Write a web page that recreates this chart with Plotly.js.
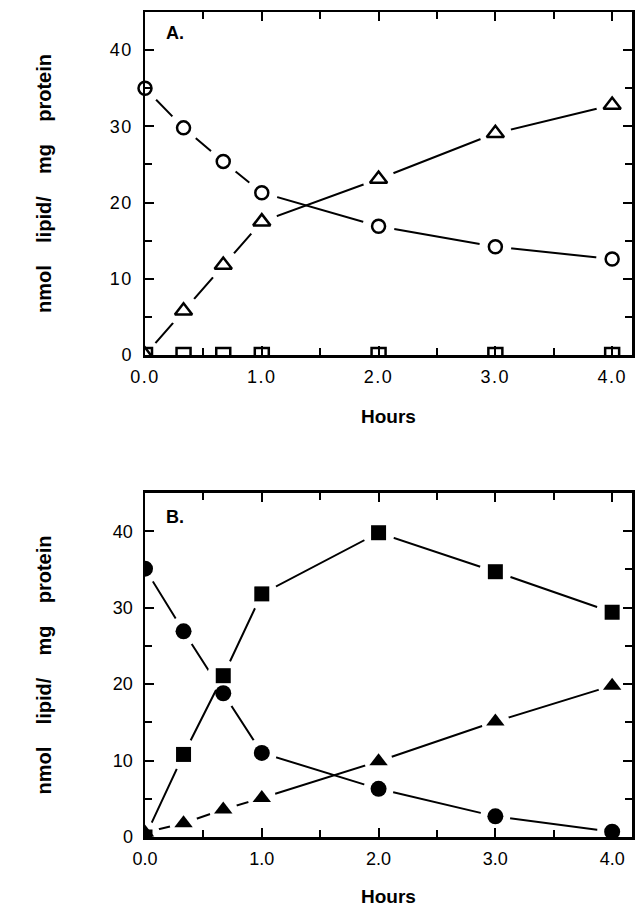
<!DOCTYPE html>
<html><head><meta charset="utf-8">
<script src="https://cdn.plot.ly/plotly-3.0.1.min.js"></script>
<style>html,body{margin:0;padding:0;background:#fff}#chart{width:643px;height:907px}
#chart .xtick text, #chart .ytick text{letter-spacing:1.5px}</style>
</head><body><div id="chart"></div>
<script>
// ---- data ----
const hours = [0, 0.33, 0.67, 1, 2, 3, 4];
const aCircle   = [35.0, 29.8, 25.4, 21.3, 16.9, 14.2, 12.6];
const aTriangle = [0.0, 5.8, 11.8, 17.5, 23.1, 29.1, 32.8];
const aSquare   = [0, 0, 0, 0, 0, 0, 0];
const bCircle   = [35.1, 26.9, 18.8, 11.0, 6.3, 2.7, 0.7];
const bTriangle = [0.6, 1.8, 3.6, 5.1, 9.9, 15.1, 19.8];
const bSquare   = [0.0, 10.8, 21.1, 31.8, 39.8, 34.7, 29.4];
const xTickVals = [0, 1, 2, 3, 4];
const xTickText = ['0.0', '1.0', '2.0', '3.0', '4.0'];
const yTickVals = [0, 10, 20, 30, 40];
const yTickText = ['0', '10', '20', '30', '40'];
const panelLabels = ['A.', 'B.'];
const xTitle = 'Hours';
const yTitle = 'nmol\u00a0\u00a0\u00a0\u00a0lipid/\u00a0\u00a0\u00a0\u00a0mg\u00a0\u00a0\u00a0\u00a0protein';

// ---- styling ----
const FONT = 'Liberation Sans, Arial, Helvetica, sans-serif';
const BLACK = '#000';
const X_RANGE = [0, 4.17];
const Y_RANGE = [0, 45];

function lineHaloTrace(y, xa, ya, haloSize) {
  return {x: hours, y: y, xaxis: xa, yaxis: ya, mode: 'lines+markers',
    line: {color: BLACK, width: 2},
    marker: {symbol: 'circle', size: haloSize, color: '#fff', line: {width: 0}},
    hoverinfo: 'skip', showlegend: false, cliponaxis: true};
}
function markerTrace(y, xa, ya, symbol, size, filled, clip) {
  return {x: hours, y: y, xaxis: xa, yaxis: ya, mode: 'markers',
    marker: {symbol: symbol, size: size, color: filled ? BLACK : '#fff',
      line: {color: BLACK, width: filled ? 0 : 2.5}},
    hoverinfo: 'skip', showlegend: false, cliponaxis: clip};
}

const traces = [
  // panel A
  lineHaloTrace(aCircle, 'x', 'y', 32),
  lineHaloTrace(aTriangle, 'x', 'y', 32),
  markerTrace(aSquare, 'x', 'y', 'square', 14, false, true),
  markerTrace(aTriangle, 'x', 'y', 'triangle-up', 15, false, true),
  markerTrace(aCircle, 'x', 'y', 'circle', 13, false, false),
  // panel B
  lineHaloTrace(bCircle, 'x2', 'y2', 30),
  lineHaloTrace(bTriangle, 'x2', 'y2', 28),
  lineHaloTrace(bSquare, 'x2', 'y2', 32),
  markerTrace(bSquare, 'x2', 'y2', 'square', 15, true, true),
  markerTrace(bTriangle, 'x2', 'y2', 'triangle-up', 16, true, true),
  markerTrace(bCircle, 'x2', 'y2', 'circle', 16, true, true)
];

function xAxis(anchor) {
  return {anchor: anchor, range: X_RANGE, tickmode: 'array', tickvals: xTickVals, ticktext: xTickText,
    ticks: 'inside', ticklen: 9, tickwidth: 2, tickcolor: BLACK,
    showline: true, linewidth: 2.5, linecolor: BLACK, mirror: 'allticks',
    showgrid: false, zeroline: false, ticklabelstandoff: 4, layer: 'above traces',
    tickfont: {family: FONT, size: 18, color: BLACK},
    minor: {tickmode: 'linear', tick0: 0, dtick: 0.5, ticks: 'inside', ticklen: 7, tickwidth: 2, tickcolor: BLACK, showgrid: false},
    title: {text: xTitle, standoff: 24, font: {family: FONT, size: 19, color: BLACK, weight: 700}},
    fixedrange: true};
}
function yAxis(anchor, domain) {
  return {anchor: anchor, domain: domain, range: Y_RANGE, tickmode: 'array', tickvals: yTickVals, ticktext: yTickText,
    ticks: 'inside', ticklen: 9, tickwidth: 2, tickcolor: BLACK,
    showline: true, linewidth: 2.5, linecolor: BLACK, mirror: 'allticks',
    showgrid: false, zeroline: false, ticklabelstandoff: 6, layer: 'above traces',
    tickfont: {family: FONT, size: 18, color: BLACK},
    minor: {tickmode: 'linear', tick0: 0, dtick: 5, ticks: 'inside', ticklen: 7, tickwidth: 2, tickcolor: BLACK, showgrid: false},
    title: {text: yTitle, standoff: 56, font: {family: FONT, size: 20, color: BLACK, weight: 700}},
    fixedrange: true};
}

const layout = {
  width: 643, height: 907,
  margin: {l: 145, r: 11, t: 12, b: 70, pad: 0},
  paper_bgcolor: '#fff', plot_bgcolor: '#fff',
  showlegend: false,
  xaxis: xAxis('y'),
  yaxis: yAxis('x', [0.5842, 1]),
  xaxis2: xAxis('y2'),
  yaxis2: yAxis('x2', [0, 0.4170]),
  annotations: [
    {xref: 'x', yref: 'y', x: 0.16, y: 42.3, text: panelLabels[0], showarrow: false, xanchor: 'left', yanchor: 'middle',
      font: {family: FONT, size: 18, color: BLACK, weight: 700}},
    {xref: 'x2', yref: 'y2', x: 0.16, y: 41.8, text: panelLabels[1], showarrow: false, xanchor: 'left', yanchor: 'middle',
      font: {family: FONT, size: 18, color: BLACK, weight: 700}}
  ]
};

Plotly.newPlot('chart', traces, layout, {staticPlot: true, displayModeBar: false});
</script>
</body></html>
